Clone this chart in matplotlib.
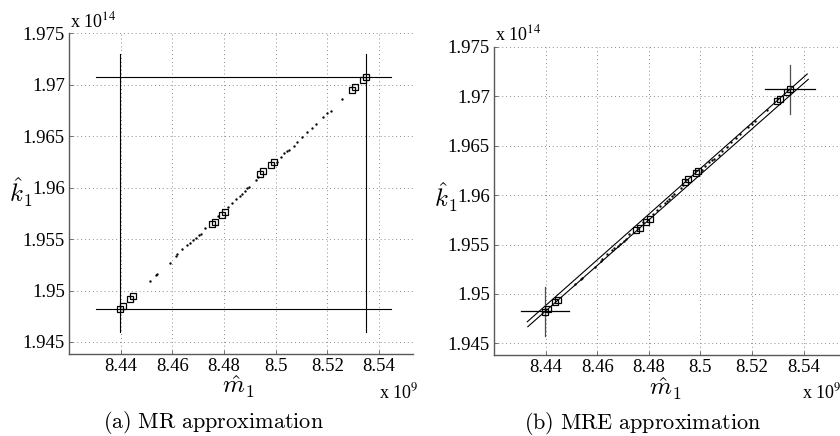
import matplotlib
matplotlib.use("Agg")
import matplotlib.pyplot as plt

plt.rcParams['font.family'] = ['Liberation Serif', 'DejaVu Serif']
plt.rcParams['mathtext.fontset'] = 'cm'

# estimates (m in 1e9, k in 1e14)
sq_m = [8.4396, 8.4409, 8.4438, 8.4449, 8.4752, 8.4764, 8.4791, 8.4803,
        8.4939, 8.4951, 8.4981, 8.4992, 8.5296, 8.5307, 8.5337, 8.5349]
sq_k = [1.94821, 1.94850, 1.94915, 1.94942, 1.95642, 1.95667, 1.95732, 1.95759,
        1.96131, 1.96158, 1.96222, 1.96248, 1.96951, 1.96975, 1.97046, 1.97072]

dot_m = [8.4513, 8.4536, 8.4542, 8.4590, 8.4613, 8.4620, 8.4639, 8.4656,
         8.4667, 8.4679, 8.4690, 8.4702, 8.4710, 8.4725, 8.4777, 8.4815,
         8.4832, 8.4845, 8.4862, 8.4871, 8.4880, 8.4891, 8.4897, 8.4923,
         8.4932, 8.5007, 8.5019, 8.5032, 8.5043, 8.5052, 8.5071, 8.5084,
         8.5103, 8.5120, 8.5139, 8.5155, 8.5185, 8.5198, 8.5213, 8.5258]
dot_k = [1.95097, 1.95149, 1.95165, 1.95272, 1.95337, 1.95353, 1.95402, 1.95441,
         1.95460, 1.95489, 1.95509, 1.95538, 1.95554, 1.95603, 1.95723, 1.95807,
         1.95852, 1.95885, 1.95917, 1.95937, 1.95963, 1.95995, 1.96008, 1.96073,
         1.96105, 1.96251, 1.96294, 1.96333, 1.96355, 1.96365, 1.96404, 1.96446,
         1.96488, 1.96537, 1.96576, 1.96618, 1.96689, 1.96722, 1.96747, 1.96861]

# MR bounds (panel a)
mr_k_lines = [1.94821, 1.97072]
mr_m_span = [8.4303, 8.5445]
mr_m_lines = [8.4397, 8.5351]
mr_k_span = [1.9460, 1.9730]

# MRE band edges and crosshairs (panel b)
band_up_m = [8.4329, 8.5414]
band_up_k = [1.94719, 1.97224]
band_lo_m = [8.4331, 8.5418]
band_lo_k = [1.94669, 1.97170]
cross_m = [8.4397, 8.5347]
cross_k = [1.94825, 1.97069]
cross_dm = [0.0094, 0.0096]
cross_dk = [0.0025, 0.0025]

xticks = [8.44, 8.46, 8.48, 8.50, 8.52, 8.54]
xticklabels = ['8.44', '8.46', '8.48', '8.5', '8.52', '8.54']
yticks = [1.945, 1.95, 1.955, 1.96, 1.965, 1.97, 1.975]
yticklabels = ['1.945', '1.95', '1.955', '1.96', '1.965', '1.97', '1.975']

W, H = 840, 436
fig = plt.figure(figsize=(W / 100, H / 100), dpi=100)


def px_axes(l, t, r, b):
    return fig.add_axes([l / W, 1 - b / H, (r - l) / W, (b - t) / H])


def style(ax, xmax):
    ax.set_xlim(8.42, xmax)
    ax.set_ylim(1.9438, 1.975)
    ax.set_xticks(xticks)
    ax.set_xticklabels(xticklabels)
    ax.set_yticks(yticks)
    ax.set_yticklabels(yticklabels)
    for s in ['top', 'right']:
        ax.spines[s].set_visible(False)
    for s in ['left', 'bottom']:
        ax.spines[s].set_color('0.35')
        ax.spines[s].set_linewidth(1.0)
    ax.tick_params(direction='in', length=3, width=0.6, color='0.35',
                   labelsize=13.5, pad=3)
    ax.grid(True, linestyle=(0, (1, 3)), color='0.55', linewidth=0.7)
    ax.set_axisbelow(True)


def marks(ax):
    ax.plot(dot_m, dot_k, '.', color='k', ms=1.4, zorder=3)
    ax.plot(sq_m, sq_k, 's', mfc='none', mec='k', ms=4.2, mew=0.9, zorder=4)


# panel a
ax1 = px_axes(69, 33.3, 413, 354.3)
style(ax1, 8.5532)
for k in mr_k_lines:
    ax1.plot(mr_m_span, [k, k], color='k', lw=0.8)
for m in mr_m_lines:
    ax1.plot([m, m], mr_k_span, color='k', lw=0.8)
marks(ax1)

# panel b
ax2 = px_axes(494, 46.7, 840, 355.3)
style(ax2, 8.5541)
ax2.plot(band_up_m, band_up_k, color='k', lw=0.8)
ax2.plot(band_lo_m, band_lo_k, color='k', lw=0.8)
for m, k, dm, dk in zip(cross_m, cross_k, cross_dm, cross_dk):
    ax2.plot([m - dm, m + dm], [k, k], color='k', lw=0.9)
    ax2.plot([m, m], [k - dk, k + dk], color='0.3', lw=0.9)
marks(ax2)


def ftext(x, y, s, **kw):
    fig.text(x / W, 1 - y / H, s, **kw)


# exponent labels, axis labels, captions
exp_kw = dict(fontsize=13, math_fontfamily='stix', va='baseline')
ftext(70, 27, r'x 10$^{14}$', **exp_kw)
ftext(495, 40, r'x 10$^{14}$', **exp_kw)
ftext(379, 398, r'x 10$^{9}$', **exp_kw)
ftext(802, 398, r'x 10$^{9}$', **exp_kw)

ftext(21, 192, r'$\hat{k}_1$', fontsize=18, ha='center', va='center')
ftext(446, 197, r'$\hat{k}_1$', fontsize=18, ha='center', va='center')
ftext(238, 387, r'$\hat{m}_1$', fontsize=18, ha='center', va='center')
ftext(665, 389, r'$\hat{m}_1$', fontsize=18, ha='center', va='center')

ftext(213, 422, r'$\mathrm{(a)\ MR\ approximation}$', fontsize=16,
      ha='center', va='center')
ftext(643, 423, r'$\mathrm{(b)\ MRE\ approximation}$', fontsize=16,
      ha='center', va='center')

fig.savefig('out.png', dpi=100)
